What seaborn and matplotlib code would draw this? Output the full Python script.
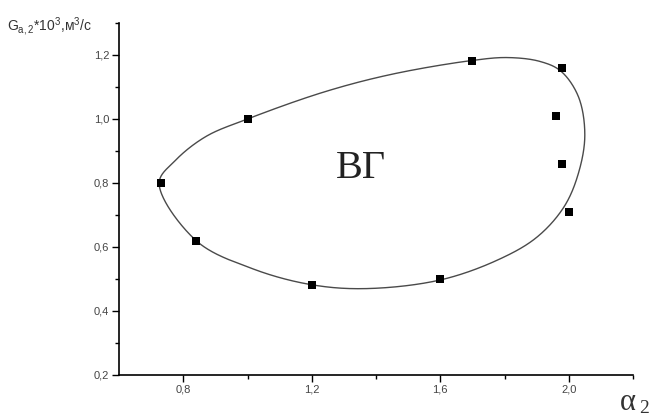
import numpy as np
import matplotlib
matplotlib.use("Agg")
import matplotlib.pyplot as plt
import seaborn as sns
import pandas as pd
from matplotlib.ticker import FixedLocator, FuncFormatter

# measured points
alpha2 = [0.73, 1.00, 1.70, 1.98, 1.96, 1.98, 2.00, 1.60, 1.20, 0.84]
G = [0.80, 1.00, 1.18, 1.16, 1.01, 0.86, 0.71, 0.50, 0.48, 0.62]

# closed contour
curve_x = [0.725, 0.775, 0.87, 1.00, 1.24, 1.45, 1.70, 1.81, 1.91, 1.975,
           2.03, 2.05, 2.03, 1.985, 1.90, 1.78, 1.60, 1.37, 1.20,
           1.016, 0.84]
curve_y = [0.80, 0.87, 0.945, 1.00, 1.085, 1.14, 1.183, 1.192, 1.18, 1.15,
           1.07, 0.95, 0.83, 0.725, 0.63, 0.56, 0.497, 0.47, 0.482,
           0.532, 0.62]

x_major = [0.8, 1.2, 1.6, 2.0]
x_minor = [1.0, 1.4, 1.8, 2.2]
y_major = [0.2, 0.4, 0.6, 0.8, 1.0, 1.2]
y_minor = [0.3, 0.5, 0.7, 0.9, 1.1, 1.3]


def closed_catmull_rom(xs, ys, n=60, alpha=0.5):
    P = np.column_stack([xs, ys])
    m = len(P)
    out = []
    for i in range(m):
        p0, p1, p2, p3 = P[(i - 1) % m], P[i], P[(i + 1) % m], P[(i + 2) % m]
        t0 = 0.0
        t1 = t0 + np.linalg.norm(p1 - p0) ** alpha
        t2 = t1 + np.linalg.norm(p2 - p1) ** alpha
        t3 = t2 + np.linalg.norm(p3 - p2) ** alpha
        t = np.linspace(t1, t2, n, endpoint=False)[:, None]
        a1 = (t1 - t) / (t1 - t0) * p0 + (t - t0) / (t1 - t0) * p1
        a2 = (t2 - t) / (t2 - t1) * p1 + (t - t1) / (t2 - t1) * p2
        a3 = (t3 - t) / (t3 - t2) * p2 + (t - t2) / (t3 - t2) * p3
        b1 = (t2 - t) / (t2 - t0) * a1 + (t - t0) / (t2 - t0) * a2
        b2 = (t3 - t) / (t3 - t1) * a2 + (t - t1) / (t3 - t1) * a3
        c = (t2 - t) / (t2 - t1) * b1 + (t - t1) / (t2 - t1) * b2
        out.append(c)
    out = np.vstack(out + [out[0][:1]])
    return out[:, 0], out[:, 1]


sns.set_theme(style="ticks")
plt.rcParams["font.family"] = ["Liberation Sans", "DejaVu Sans"]
plt.rcParams["mathtext.fontset"] = "custom"
plt.rcParams["mathtext.rm"] = "Liberation Sans"
plt.rcParams["mathtext.it"] = "Liberation Sans:italic"

fig = plt.figure(figsize=(6.55, 4.18), dpi=100)
fig.patch.set_facecolor("white")
ax = fig.add_axes([119 / 655, 43 / 418, 514 / 655, 352 / 418])
ax.set_facecolor("white")

cx, cy = closed_catmull_rom(curve_x, curve_y)
curve_df = pd.DataFrame({"x": cx, "y": cy})
sns.lineplot(data=curve_df, x="x", y="y", sort=False, estimator=None,
             color="#4a4a4a", linewidth=1.0, ax=ax)

pts = pd.DataFrame({"alpha2": alpha2, "G": G})
sns.scatterplot(data=pts, x="alpha2", y="G", marker="s", s=32, color="black",
                edgecolor="black", linewidth=0, ax=ax, zorder=3)

ax.set_xlim(0.6, 2.2)
ax.set_ylim(0.2, 1.3)
ax.set_xlabel("")
ax.set_ylabel("")

for s in ["top", "right"]:
    ax.spines[s].set_visible(False)
for s in ["left", "bottom"]:
    ax.spines[s].set_color("black")
    ax.spines[s].set_linewidth(1.2)

ax.xaxis.set_major_locator(FixedLocator(x_major))
ax.xaxis.set_minor_locator(FixedLocator(x_minor))
ax.yaxis.set_major_locator(FixedLocator(y_major))
ax.yaxis.set_minor_locator(FixedLocator(y_minor))
fmt = FuncFormatter(lambda v, p: f"{v:.1f}".replace(".", ","))
ax.xaxis.set_major_formatter(fmt)
ax.yaxis.set_major_formatter(fmt)

ax.tick_params(which="major", direction="out", length=5, width=1.0,
               color="black", labelsize=8, labelcolor="#444444", pad=2,
               bottom=True, left=True)
ax.tick_params(which="minor", direction="out", length=3, width=1.0,
               color="black", bottom=True, left=True)

ax.text(1.352, 0.844, "ВГ", family=["Liberation Serif", "DejaVu Serif"],
        fontsize=29, ha="center", va="center", color="#222222")

fig.text(7 / 655, 1 - 31 / 418, r"G$_{\mathrm{a,2}}$*10$^{\mathrm{3}}$,м$^{\mathrm{3}}$/с",
         fontsize=10, ha="left", va="baseline", color="#333333")

fig.text(620 / 655, 1 - 410 / 418, "α", family=["Liberation Serif", "DejaVu Serif"],
         fontsize=22, ha="left", va="baseline", color="#333333")
fig.text(639 / 655, 1 - 413 / 418, "2", family=["Liberation Serif", "DejaVu Serif"],
         fontsize=14, ha="left", va="baseline", color="#333333")

fig.savefig("out.png", dpi=100, facecolor="white")
